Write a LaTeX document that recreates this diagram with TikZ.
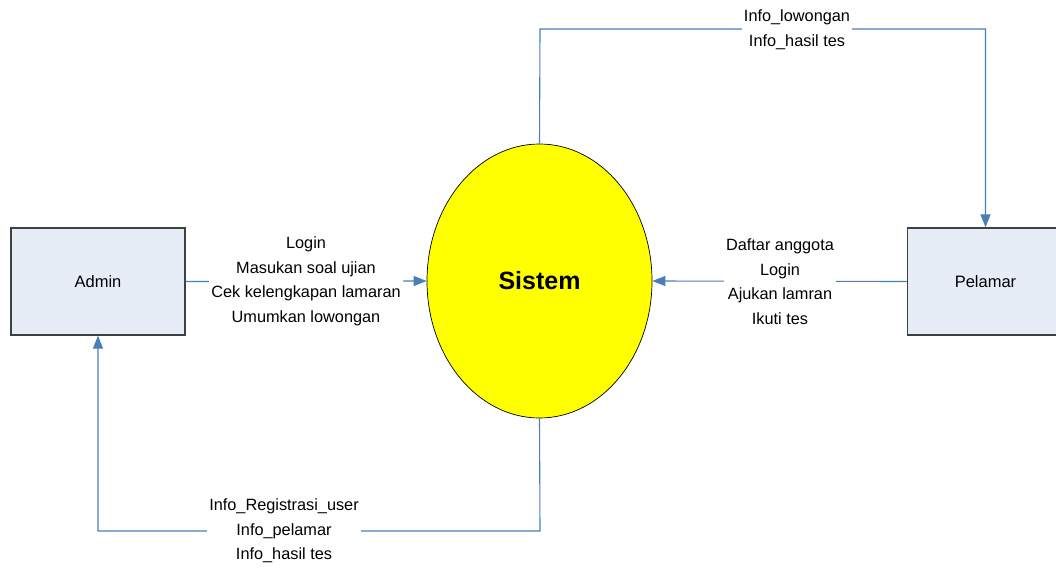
\documentclass[tikz,border=0pt]{standalone}
\usepackage{fontspec}
\setmainfont{Liberation Sans}
\usetikzlibrary{shapes.geometric,arrows.meta}
\definecolor{flowblue}{HTML}{4A7EBB}
\definecolor{boxfill}{HTML}{E7EDF7}
\definecolor{boxline}{HTML}{404040}
\definecolor{sysyellow}{HTML}{FFFF00}
\tikzset{
  entity/.style={draw=boxline, line width=1.3pt, fill=boxfill, rectangle,
    minimum height=107pt, inner sep=0pt, font=\fontsize{16.5}{20}\selectfont},
  process/.style={draw=black, line width=0.7pt, fill=sysyellow, ellipse,
    minimum width=225pt, minimum height=274pt, inner sep=0pt,
    font=\bfseries\fontsize{25}{30}\selectfont},
  flow/.style={draw=flowblue, line width=1.1pt, -{Triangle[length=13pt,width=10pt]}},
  flowlbl/.style={fill=white, inner sep=2pt, align=center,
    font=\fontsize{16.3}{24.5}\selectfont}
}
\begin{document}
\begin{tikzpicture}[x=1pt,y=-1pt]
\useasboundingbox (0,0) rectangle (1056,567);
\fill[white] (0,0) rectangle (1056,567);

% external entities and the central process
\node[entity, minimum width=174pt] (admin) at (98,281.5) {Admin};
\node[entity, minimum width=156pt] (pelamar) at (985.5,281.5) {Pelamar};
\node[process] (sistem) at (539.5,281) {Sistem};

% bend points of the routed flows
\coordinate (tl) at (540,29);
\coordinate (tr) at (985.5,29);
\coordinate (br) at (540,531);
\coordinate (bl) at (98,531);

% Admin -> Sistem
\draw[flow] (admin.east) -- (sistem.west);
\node[flowlbl] (lblA) at (306,281.5)
  {Login\\Masukan soal ujian\\Cek kelengkapan lamaran\\Umumkan lowongan};

% Pelamar -> Sistem
\draw[flow] (pelamar.west) -- (sistem.east);
\node[flowlbl] (lblP) at (780,281.5)
  {Daftar anggota\\Login\\Ajukan lamran\\Ikuti tes};

% Sistem -> Pelamar
\draw[flow] (sistem.north) -- (tl) -- (tr) -- (pelamar.north);
\node[flowlbl] (lblT) at (797,29.5) {Info\_lowongan\\Info\_hasil tes};

% Sistem -> Admin
\draw[flow] (sistem.south) -- (br) -- (bl) -- (admin.south);
\node[flowlbl] (lblB) at (284,531)
  {Info\_Registrasi\_user\\Info\_pelamar\\Info\_hasil tes};
\end{tikzpicture}
\end{document}
